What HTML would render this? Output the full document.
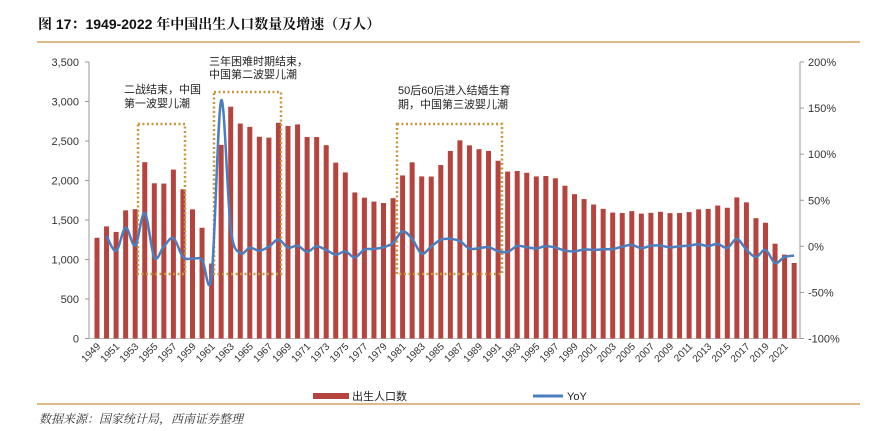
<!DOCTYPE html>
<html><head><meta charset="utf-8">
<style>
html,body{margin:0;padding:0;background:#fff;}
body{width:876px;height:431px;overflow:hidden;position:relative;font-family:"Liberation Sans","Noto Sans CJK SC",sans-serif;}
</style></head>
<body>
<svg id="chart" width="876" height="431" viewBox="0 0 876 431" xmlns="http://www.w3.org/2000/svg" style="position:absolute;left:0;top:0">
<text x="38" y="29" font-size="14" font-weight="bold" fill="#111" font-family="'Liberation Sans','Noto Serif CJK SC',serif">图 17：1949-2022 年中国出生人口数量及增速（万人）</text>
<line x1="37" y1="42" x2="860" y2="42" stroke="#d4a261" stroke-width="1.5"/>
<line x1="37" y1="404" x2="860" y2="404" stroke="#d4a261" stroke-width="1.5"/>
<text x="39" y="423" font-size="12" font-style="italic" fill="#333" font-family="'Liberation Sans','Noto Serif CJK SC',serif">数据来源：国家统计局，西南证券整理</text>
<g id="axes"></g>
<g id="bars"></g>
<g id="boxes" fill="none" stroke="#c8963e" stroke-width="2.5" stroke-dasharray="2 2.5">
<rect x="138" y="124" width="47" height="150"/>
<rect x="214" y="92" width="67" height="182"/>
<rect x="397" y="124" width="105" height="150"/>
</g>
<path id="yoy" fill="none" stroke="#4a7ebf" stroke-width="2.5"/>
<g font-size="11" fill="#222" font-family="'Liberation Sans','Noto Sans CJK SC',sans-serif">
<text x="124" y="93">二战结束，中国<tspan x="124" dy="14">第一波婴儿潮</tspan></text>
<text x="209" y="65">三年困难时期结束，<tspan x="209" dy="13">中国第二波婴儿潮</tspan></text>
<text x="398" y="94">50后60后进入结婚生育<tspan x="398" dy="14">期，中国第三波婴儿潮</tspan></text>
</g>
<g>
<rect x="313" y="393" width="36" height="6" fill="#b5443f"/>
<text x="352" y="400" font-size="11" fill="#222">出生人口数</text>
<line x1="533" y1="396" x2="563" y2="396" stroke="#4a7ebf" stroke-width="3"/>
<text x="567" y="400" font-size="11" fill="#222">YoY</text>
</g>
</svg>
<script>
const years = [];
for (let y = 1949; y <= 2022; y++) years.push(y);
const births = [1275,1419,1349,1622,1637,2232,1965,1961,2138,1889,1635,1402,949,2451,2934,2721,2679,2554,2543,2731,2690,2710,2551,2550,2447,2226,2102,1849,1783,1733,1715,1776,2064,2230,2052,2050,2196,2374,2508,2445,2396,2374,2250,2113,2120,2098,2052,2057,2028,1934,1827,1765,1696,1641,1594,1588,1612,1581,1591,1604,1587,1588,1600,1635,1640,1683,1655,1786,1723,1523,1465,1200,1062,956];
const yoy = [null,11.3,-4.9,20.2,0.9,36.3,-12.0,-0.2,9.0,-11.6,-13.4,-14.3,-32.3,158.3,19.7,-7.3,-1.5,-4.7,-0.4,7.4,-1.5,0.7,-5.9,0.0,-4.0,-9.0,-5.6,-12.0,-3.6,-2.8,-1.0,3.6,16.2,8.0,-8.0,-0.1,7.1,8.1,5.6,-2.5,-2.0,-0.9,-5.2,-6.1,0.3,-1.0,-2.2,0.2,-1.4,-4.6,-5.5,-3.4,-3.9,-3.2,-2.9,-0.4,1.5,-1.9,0.6,0.8,-1.1,0.1,0.8,2.2,0.3,2.6,-1.7,7.9,-3.5,-11.6,-3.8,-18.1,-11.5,-10.0];
const leftTicks = [0,500,1000,1500,2000,2500,3000,3500];
const rightTicks = [-100,-50,0,50,100,150,200];

const NS = "http://www.w3.org/2000/svg";
const X0 = 97, DX = 9.55, YB = 338.5, YT = 62, PL = 89, PR = 800;
const xPos = i => X0 + i * DX;
const yL = v => YB - (v / 3500) * (YB - YT);
const yR = v => YB - ((v + 100) / 300) * (YB - YT);
function mk(tag, attrs, parent) {
  const e = document.createElementNS(NS, tag);
  for (const k in attrs) e.setAttribute(k, attrs[k]);
  parent.appendChild(e);
  return e;
}
const axes = document.getElementById('axes');
const ax1 = mk('line', {x1: PL, y1: YT, x2: PL, y2: YB, stroke: '#999', 'stroke-width': 1}, axes);


const ax2 = mk('line', {x1: PR, y1: YT, x2: PR, y2: YB, stroke: '#999', 'stroke-width': 1}, axes);


const ax3 = mk('line', {x1: PL, y1: YB, x2: PR, y2: YB, stroke: '#bbb', 'stroke-width': 1}, axes);


leftTicks.forEach(v => {
  const y = yL(v);
  mk('line', {x1: PL - 4, y1: y, x2: PL, y2: y, stroke: '#999'}, axes);
  const t = mk('text', {x: 79, y: y + 4, 'font-size': 11, fill: '#333', 'text-anchor': 'end'}, axes);
  t.textContent = v.toLocaleString('en-US');
  
  
});
rightTicks.forEach(v => {
  const y = yR(v);
  mk('line', {x1: PR, y1: y, x2: PR + 4, y2: y, stroke: '#999'}, axes);
  const t = mk('text', {x: 808, y: y + 4, 'font-size': 11, fill: '#333'}, axes);
  t.textContent = v + '%';
  
  
});
years.forEach((yr, i) => {
  if (i % 2 !== 0) return;
  const x = xPos(i) + 4, y = 347;
  const t = mk('text', {x: x, y: y, 'font-size': 10, fill: '#333', 'text-anchor': 'end', transform: `rotate(-45 ${x} ${y})`}, axes);
  t.textContent = yr;
  
  
});
const bars = document.getElementById('bars');
births.forEach((v, i) => {
  const y = yL(v);
  const r = mk('rect', {x: xPos(i) - 2.5, y: y, width: 5, height: YB - y, fill: '#b5443f'}, bars);
  
  
});
// smooth YoY line (Catmull-Rom)
const pts = [];
yoy.forEach((v, i) => { if (v !== null) pts.push([xPos(i), yR(v)]); });
let d = `M${pts[0][0]},${pts[0][1]}`;
for (let i = 0; i < pts.length - 1; i++) {
  const p0 = pts[Math.max(0, i - 1)], p1 = pts[i], p2 = pts[i + 1], p3 = pts[Math.min(pts.length - 1, i + 2)];
  const c1 = [p1[0] + (p2[0] - p0[0]) / 6, p1[1] + (p2[1] - p0[1]) / 6];
  const c2 = [p2[0] - (p3[0] - p1[0]) / 6, p2[1] - (p3[1] - p1[1]) / 6];
  d += ` C${c1[0]},${c1[1]} ${c2[0]},${c2[1]} ${p2[0]},${p2[1]}`;
}
document.getElementById('yoy').setAttribute('d', d);
</script>
</body></html>
